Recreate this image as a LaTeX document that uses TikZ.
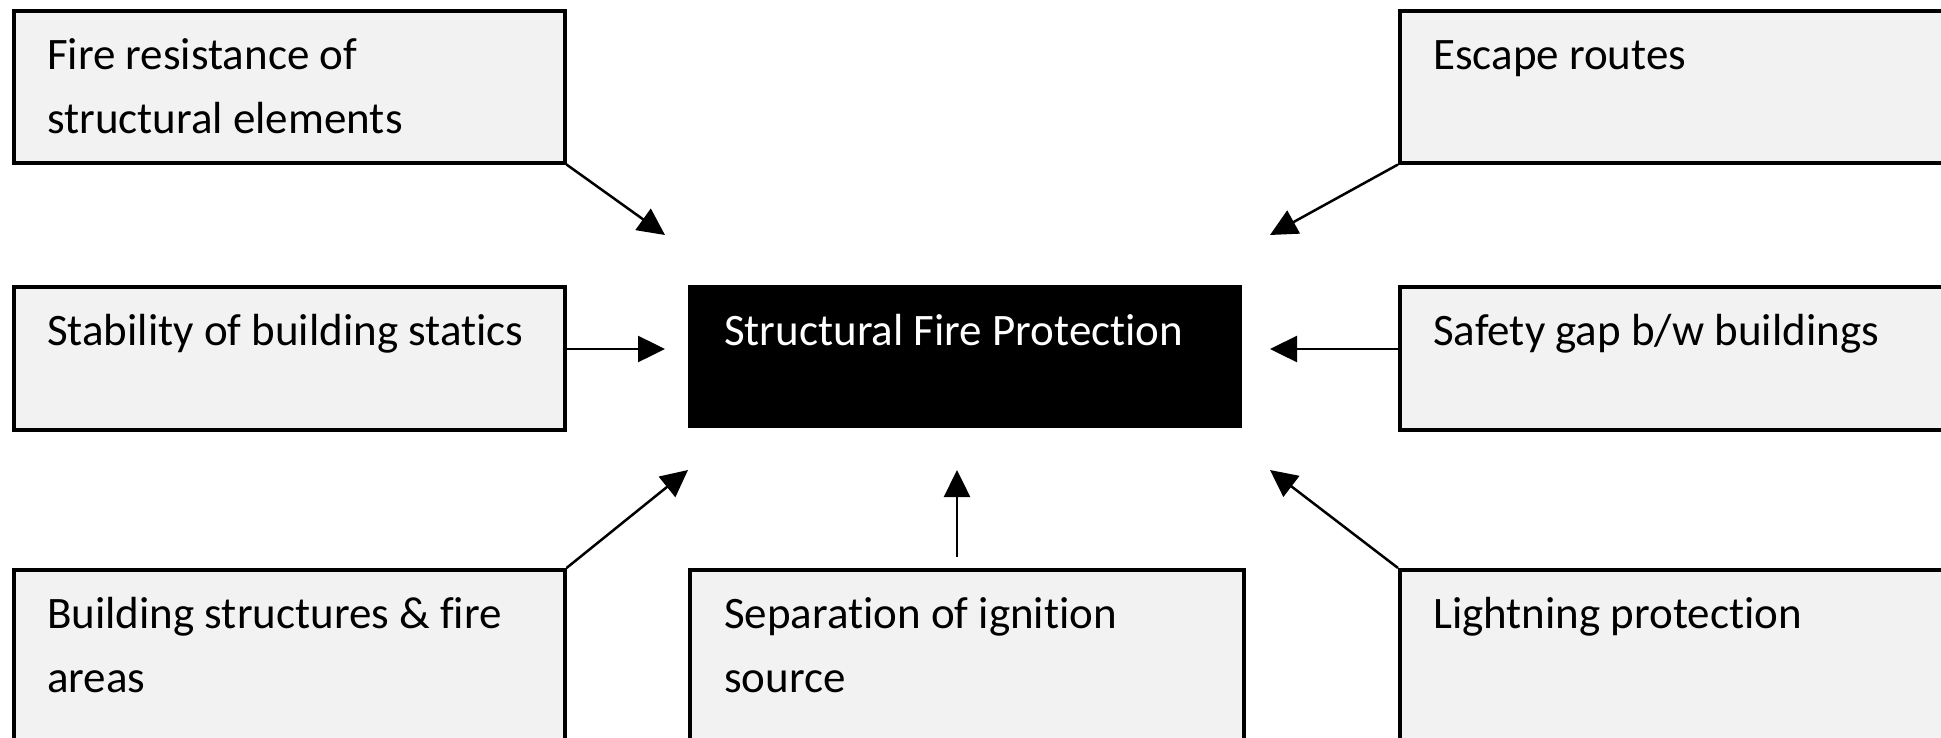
\documentclass[tikz,border=0pt]{standalone}
\usepackage{fontspec}
\setmainfont{Carlito}[Ligatures=NoCommon]
\usetikzlibrary{arrows.meta}
\definecolor{boxgray}{HTML}{F2F2F2}
\begin{document}
\begin{tikzpicture}[x=1pt,y=-1pt,
  fbox/.style={draw=black, line width=3.5pt, fill=boxgray, minimum width=551pt, anchor=north west, inner sep=0pt},
  cbox/.style={fill=black, minimum width=554pt, minimum height=143pt, anchor=north west, inner sep=0pt},
  lbl/.style={font=\fontsize{45}{64}\selectfont, anchor=base west, align=left, inner sep=0pt},
  arr/.style={line width=2.5pt, -{Triangle[length=27pt,width=26pt]}}
]
\useasboundingbox (0,0) rectangle (1941,737);
\clip (0,0) rectangle (1941,737);
% boxes
\node[fbox, minimum height=152pt] (tl) at (12,9) {};
\node[fbox, minimum height=152pt] (tr) at (1398,9) {};
\node[fbox, minimum height=143pt] (ml) at (12,285) {};
\node[cbox] (c) at (688,285) {};
\node[fbox, minimum height=143pt] (mr) at (1398,285) {};
\node[fbox, minimum height=190pt] (bl) at (12,568) {};
\node[fbox, minimum height=190pt, minimum width=554pt] (bc) at (688,568) {};
\node[fbox, minimum height=190pt] (br) at (1398,568) {};
% labels (base anchor = baseline of last line)
\node[lbl] (tlt) at (47,133) {Fire resistance of\\structural elements};
\node[lbl] (trt) at (1433,69) {Escape routes};
\node[lbl] (mlt) at (47,345) {Stability of building statics};
\node[lbl, text=white] (ct) at (724,345) {Structural Fire Protection};
\node[lbl] (mrt) at (1433,345) {Safety gap b/w buildings};
\node[lbl] (blt) at (47,692) {Building structures \& fire\\areas};
\node[lbl] (bct) at (724,692) {Separation of ignition\\source};
\node[lbl] (brt) at (1433,628) {Lightning protection};
% arrow tips
\coordinate (t1) at (665,235);
\coordinate (t2) at (1270,235);
\coordinate (t3) at (665,349);
\coordinate (t4) at (1270,349);
\coordinate (t5) at (688,470);
\coordinate (t6) at (957,470);
\coordinate (t7) at (1270,470);
\coordinate (s6) at (957,557);
\draw[arr] (tl.south east) -- (t1);
\draw[arr] (tr.south west) -- (t2);
\draw[arr] (ml.east |- t3) -- (t3);
\draw[arr] (mr.west |- t4) -- (t4);
\draw[arr] (bl.north east) -- (t5);
\draw[arr] (s6) -- (t6);
\draw[arr] (br.north west) -- (t7);
\end{tikzpicture}
\end{document}
